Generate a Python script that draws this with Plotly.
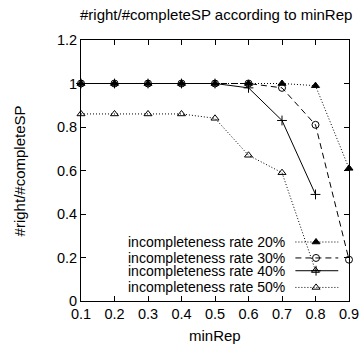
import plotly.graph_objects as go

min_rep = [0.1, 0.2, 0.3, 0.4, 0.5, 0.6, 0.7, 0.8, 0.9]
rate20 = [1.0, 1.0, 1.0, 1.0, 1.0, 1.0, 1.0, 0.99, 0.61]
rate30 = [1.0, 1.0, 1.0, 1.0, 1.0, 1.0, 0.98, 0.81, 0.19]
rate40 = [1.0, 1.0, 1.0, 1.0, 1.0, 0.98, 0.83, 0.49]
rate50 = [0.86, 0.86, 0.86, 0.86, 0.84, 0.67, 0.59, 0.14]
labels = ["incompleteness rate 20%", "incompleteness rate 30%",
          "incompleteness rate 40%", "incompleteness rate 50%"]
x_ticks = [0.1, 0.2, 0.3, 0.4, 0.5, 0.6, 0.7, 0.8, 0.9]
x_ticklabels = ["0.1", "0.2", "0.3", "0.4", "0.5", "0.6", "0.7", "0.8", "0.9"]
y_ticks = [0, 0.2, 0.4, 0.6, 0.8, 1.0, 1.2]
y_ticklabels = ["0", "0.2", "0.4", "0.6", "0.8", "1", "1.2"]
title_text = "#right/#completeSP according to minRep"
x_title = "minRep"
y_title = "#right/#completeSP"

FONT = "Liberation Sans, Arial, sans-serif"
styles = [
    dict(dash="1px,2px", symbol="triangle-up"),
    dict(dash="6px,4px", symbol="circle-open"),
    dict(dash="solid", symbol="cross-thin-open"),
    dict(dash="1px,2px", symbol="triangle-up-open"),
]
series = [rate20, rate30, rate40, rate50]

fig = go.Figure()
for vals, st in zip(series, styles):
    fig.add_trace(go.Scatter(
        x=min_rep[:len(vals)], y=vals, mode="lines+markers",
        line=dict(color="black", width=1, dash=st["dash"]),
        marker=dict(symbol=st["symbol"], size=7, color="black",
                    line=dict(color="black", width=1)),
        cliponaxis=False, showlegend=False))

# custom gnuplot-style key (text on the left, sample on the right)
key_rows = [0.226, 0.165, 0.116, 0.052]
for lab, st, ky in zip(labels, styles, key_rows):
    fig.add_trace(go.Scatter(
        x=[0.80, 0.877, 0.96], y=[ky, ky, ky], mode="lines",
        line=dict(color="black", width=1, dash=st["dash"]),
        xaxis="x2", yaxis="y2", showlegend=False, hoverinfo="skip"))
    fig.add_trace(go.Scatter(
        x=[0.877], y=[ky], mode="markers",
        marker=dict(symbol=st["symbol"], size=7, color="black",
                    line=dict(color="black", width=1)),
        xaxis="x2", yaxis="y2", showlegend=False, hoverinfo="skip"))
    fig.add_annotation(x=0.768, y=ky, xref="x2", yref="y2", text=lab,
                       showarrow=False, xanchor="right", yanchor="middle",
                       font=dict(family=FONT, size=14, color="black"))

# chart title and axis titles
fig.add_annotation(x=0.504, y=1.096, xref="paper", yref="paper", text=title_text,
                   showarrow=False, xanchor="center", yanchor="middle",
                   font=dict(family=FONT, size=15, color="black"))
fig.add_annotation(x=0.5, y=-0.133, xref="paper", yref="paper", text=x_title,
                   showarrow=False, xanchor="center", yanchor="middle",
                   font=dict(family=FONT, size=15, color="black"))
fig.add_annotation(x=-0.228, y=0.5, xref="paper", yref="paper", text=y_title,
                   showarrow=False, xanchor="center", yanchor="middle", textangle=-90,
                   font=dict(family=FONT, size=15, color="black"))

axis_common = dict(showline=True, linecolor="black", linewidth=1, mirror="ticks",
                   ticks="inside", ticklen=5, tickcolor="black", showgrid=False,
                   zeroline=False, automargin=False,
                   tickfont=dict(family=FONT, size=14.5, color="black"))

fig.update_layout(
    width=363, height=345,
    margin=dict(l=81, r=14, t=40, b=44, autoexpand=False),
    paper_bgcolor="white", plot_bgcolor="white",
    xaxis=dict(range=[0.1, 0.9], tickvals=x_ticks, ticktext=x_ticklabels,
               **axis_common),
    yaxis=dict(range=[0, 1.2], tickvals=y_ticks, ticktext=y_ticklabels,
               **axis_common),
    xaxis2=dict(overlaying="x", range=[0, 1], visible=False),
    yaxis2=dict(overlaying="y", range=[0, 1], visible=False),
    showlegend=False,
)

fig.write_html(
    "out.html",
    config={"displayModeBar": False},
    post_script="document.body.style.margin='0';document.body.style.overflow='hidden';",
)
